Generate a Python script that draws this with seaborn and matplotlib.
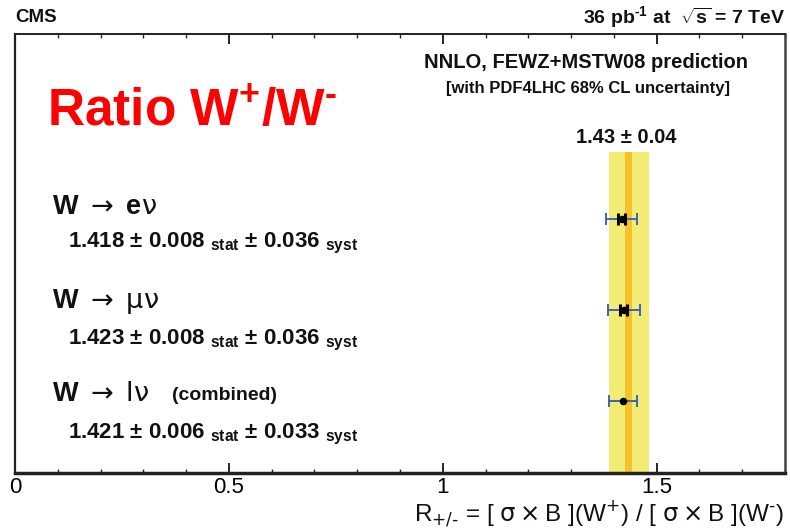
import matplotlib
matplotlib.use("Agg")
import matplotlib.pyplot as plt
import matplotlib.transforms as mtransforms
import seaborn as sns
import pandas as pd
from matplotlib.ticker import MultipleLocator

# ---- data ----
channels = ["e", "mu", "combined"]
channel_labels = [r"W $\rightarrow$ e$\mathrm{\nu}$",
                  r"W $\rightarrow$ $\mathrm{\mu\nu}$",
                  r"W $\rightarrow$ $\mathrm{l\nu}$"]
ratio = [1.418, 1.423, 1.421]
stat_err = [0.008, 0.008, 0.006]
syst_err = [0.036, 0.036, 0.033]
draw_stat = [True, True, False]
ypos = [3, 2, 1]
pred_value = 1.435
pred_err = 0.047
pred_label = "1.43 \u00b1 0.04"
xticks = [0, 0.5, 1, 1.5]
xtick_labels = ["0", "0.5", "1", "1.5"]

tot_err = [(a ** 2 + b ** 2) ** 0.5 for a, b in zip(stat_err, syst_err)]
df = pd.DataFrame({"channel": channels, "ratio": ratio, "y": ypos,
                   "stat": stat_err, "syst": syst_err, "tot": tot_err})

sns.set_theme(style="white")
plt.rcParams["font.family"] = ["Liberation Sans", "DejaVu Sans"]
plt.rcParams["mathtext.fontset"] = "custom"
plt.rcParams["mathtext.rm"] = "Liberation Sans:bold"
plt.rcParams["mathtext.bf"] = "Liberation Sans:bold"
plt.rcParams["mathtext.it"] = "Liberation Sans:italic:bold"
plt.rcParams["mathtext.sf"] = "Liberation Sans:bold"

fig = plt.figure(figsize=(7.9, 5.32), dpi=100)
ax = fig.add_axes([15 / 790, 59 / 532, 770 / 790, 439 / 532])

ax.set_xlim(0, 1.8)
ax.set_ylim(0.21, 5.04)

# prediction band
band_top = 0.731
ax.axvspan(pred_value - pred_err, pred_value + pred_err, ymin=0, ymax=band_top,
           color="#f2ec74", lw=0, zorder=1)
ax.axvspan(pred_value - 0.008, pred_value + 0.008, ymin=0, ymax=band_top,
           color="#f5c22a", lw=0, zorder=2)

# total errors (blue)
ax.errorbar(df["ratio"], df["y"], xerr=df["tot"], fmt="none", ecolor="#3f63b8",
            elinewidth=1.4, capsize=4.5, capthick=1.4, zorder=3)
# stat errors (black)
for r, y, s, d in zip(ratio, ypos, stat_err, draw_stat):
    if d:
        ax.errorbar([r], [y], xerr=[s], fmt="none", ecolor="black",
                    elinewidth=3, capsize=4.5, capthick=2.2, zorder=4)
sns.scatterplot(data=df, x="ratio", y="y", color="black", s=30, marker="o",
                edgecolor="black", linewidth=0, ax=ax, zorder=5, legend=False)

# axes styling
ax.set_xticks(xticks)
ax.set_xticklabels(xtick_labels, fontsize=16)
ax.xaxis.set_minor_locator(MultipleLocator(0.1))
ax.tick_params(axis="x", which="major", direction="in", length=7, width=1.2,
               top=True, bottom=True, pad=3, colors="black")
ax.tick_params(axis="x", which="minor", direction="in", length=3, width=1.0,
               top=True, bottom=True)
ax.set_yticks([])
ax.set_xlabel("")
ax.set_ylabel("")
for side, lw in [("bottom", 2.5), ("left", 1.6), ("right", 1.8), ("top", 1.4)]:
    ax.spines[side].set_visible(True)
    ax.spines[side].set_linewidth(lw)
    ax.spines[side].set_color("#222222" if side != "right" else "#444444")

# texts
fig.text(15 / 790, 1 - 17 / 532, "CMS", fontsize=13.5, fontweight="bold",
         color="#111111", ha="left", va="center")
fig.text(785 / 790, 1 - 17 / 532, r"36 pb$^{\text{-1}}$ at  $\sqrt{\mathbf{s}}$ = 7 TeV",
         fontsize=14, fontweight="bold", color="#111111", ha="right", va="center")
fig.text(47 / 790, 1 - 112 / 532, r"Ratio W$^{+}$/W$^{\text{-}}$", fontsize=37,
         fontweight="bold", color="#ff0000", ha="left", va="center")

fig.text(586 / 790, 1 - 63 / 532, "NNLO, FEWZ+MSTW08 prediction",
         fontsize=14.5, fontweight="bold", ha="center", va="center", color="#111111")
fig.text(588 / 790, 1 - 88 / 532, "[with PDF4LHC 68% CL uncertainty]",
         fontsize=12, fontweight="bold", ha="center", va="center", color="#111111")
ax.text(pred_value - 0.005, 1 - 137 / 532, pred_label,
        transform=mtransforms.blended_transform_factory(ax.transData, fig.transFigure),
        fontsize=14.5, fontweight="bold", ha="center", va="center", color="#111111")

title_y = [207, 301, 394]
num_y = [243, 340, 434]
for i, lab in enumerate(channel_labels):
    fig.text(52 / 790, 1 - title_y[i] / 532, lab, fontsize=19.5, fontweight="bold",
             ha="left", va="center", color="#111111", math_fontfamily="dejavusans")
    num = (f"{ratio[i]:.3f} \u00b1 {stat_err[i]:.3f} " + r"$_{\mathrm{stat}}$" +
           f" \u00b1 {syst_err[i]:.3f} " + r"$_{\mathrm{syst}}$")
    fig.text(68 / 790, 1 - num_y[i] / 532, num, fontsize=16, fontweight="bold",
             ha="left", va="center", color="#111111")
fig.text(172 / 790, 1 - 395 / 532, "(combined)", fontsize=14, fontweight="bold",
         ha="left", va="center", color="#111111")

fig.text(784 / 790, 1 - 514 / 532,
         r"R$_{+/\text{-}}$ = [ $\mathrm{\sigma}\times$B ](W$^{+}$) / [ $\mathrm{\sigma}\times$B ](W$^{\text{-}}$)",
         fontsize=17.5, ha="right", va="center", color="#111111",
         math_fontfamily="dejavusans")

fig.savefig("out.png", dpi=100)
